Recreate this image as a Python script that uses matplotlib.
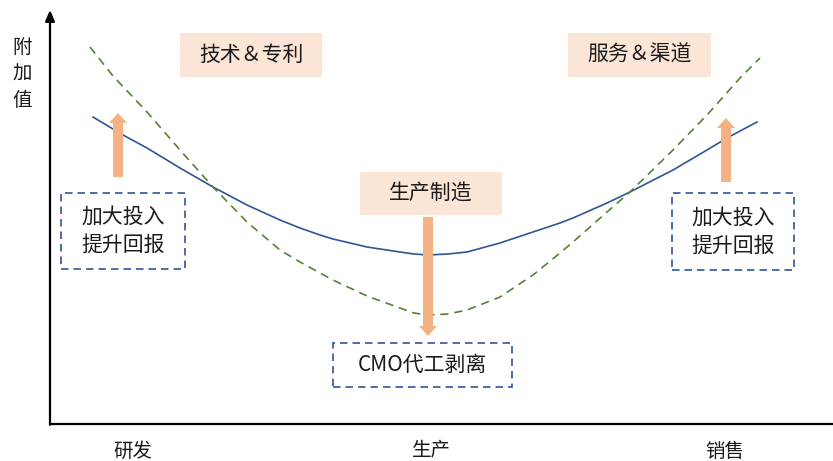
import matplotlib
matplotlib.use("Agg")
import matplotlib.pyplot as plt
from matplotlib.patches import Rectangle, FancyArrow

plt.rcParams['font.family'] = ['Noto Sans CJK SC', 'DejaVu Sans']

# --- value-chain curves (x: position along the chain, y: value added) ---
blue_x = [43, 73, 97, 130, 163, 197, 230, 250, 270, 283, 317, 350, 364, 378,
          398, 417, 450, 483, 510, 523, 557, 580, 623, 657, 677, 707]
blue_y = [307, 289, 276, 256, 237, 219, 204, 196, 189, 185, 177, 172, 170, 169,
          170, 172, 181, 192, 201, 206, 221, 232, 254, 274, 286, 302]

green_x = [40, 63, 97, 130, 163, 197, 230, 250, 270, 283, 317, 350, 364, 378,
           398, 417, 450, 483, 510, 523, 557, 580, 623, 657, 690, 710]
green_y = [377, 348, 312, 274, 237, 202, 174, 162, 151, 144, 128, 116, 111, 109,
           110, 114, 127, 149, 171, 182, 212, 232, 274, 309, 346, 366]

# --- stage labels on the horizontal axis ---
stage_labels = ['研发', '生产', '销售']
stage_pos = [83, 381, 675]

axis_title = ['附', '加', '值']

# highlighted stages (label, x0, x1, y0, y1)
stage_boxes = [
    ('技术＆专利', 130, 272, 347, 391),
    ('服务＆渠道', 518, 661, 347, 391),
    ('生产制造', 310, 452, 209, 252),
]
# dashed note boxes
note_boxes = [
    ('加大投入\n提升回报', 11, 135, 155, 231),
    ('加大投入\n提升回报', 622, 744, 154, 231),
    ('CMO代工剥离', 283, 462, 37, 81),
]
# arrows (x, y_start, y_end)
moves = [(68, 247, 311), (676, 242, 306), (378, 207, 88)]

PINK = '#FBE5D6'
ORANGE = '#F4B183'
NAVY = '#2F5597'
GREEN = '#548235'
INK = '#1a1a1a'

fig = plt.figure(figsize=(8.33, 4.61), dpi=100)
ax = fig.add_axes([0, 0, 1, 1])
ax.set_xlim(-50, 783)
ax.set_ylim(-37, 424)
ax.axis('off')

# axes with arrow on value axis
ax.plot([0, 783], [0, 0], color='black', lw=1.6, solid_capstyle='butt')
ax.annotate('', xy=(0, 414), xytext=(0, -0.8),
            arrowprops=dict(arrowstyle='-|>,head_width=0.28,head_length=0.65',
                            color='black', lw=1.6, shrinkA=0, shrinkB=0))

ax.plot(blue_x, blue_y, color=NAVY, lw=1.2, solid_joinstyle='round')
ax.plot(green_x, green_y, color=GREEN, lw=1.2, ls=(0, (5, 3.5)),
        dash_joinstyle='round')

for txt, x0, x1, y0, y1 in stage_boxes:
    ax.add_patch(Rectangle((x0, y0), x1 - x0, y1 - y0, facecolor=PINK,
                           edgecolor='none', zorder=1))
    ax.text((x0 + x1) / 2, (y0 + y1) / 2, txt, ha='center', va='center',
            fontsize=15, color=INK, zorder=3)

for txt, x0, x1, y0, y1 in note_boxes:
    ax.add_patch(Rectangle((x0, y0), x1 - x0, y1 - y0, facecolor='none',
                           edgecolor=NAVY, lw=1.2, ls=(0, (4.5, 3)), zorder=2))
    ax.text((x0 + x1) / 2, (y0 + y1) / 2, txt, ha='center', va='center',
            fontsize=15, color=INK, linespacing=1.35, zorder=3)

for x, ya, yb in moves:
    ax.add_patch(FancyArrow(x, ya, 0, yb - ya, width=10, head_width=18,
                            head_length=10, length_includes_head=True,
                            color=ORANGE, lw=0, zorder=4))

for lab, xp in zip(stage_labels, stage_pos):
    ax.text(xp, -27, lab, ha='center', va='center', fontsize=14, color=INK)

for i, ch in enumerate(axis_title):
    ax.text(-28, 377 - 27 * i, ch, ha='center', va='center', fontsize=14,
            color=INK)

fig.savefig('out.png', dpi=100)
